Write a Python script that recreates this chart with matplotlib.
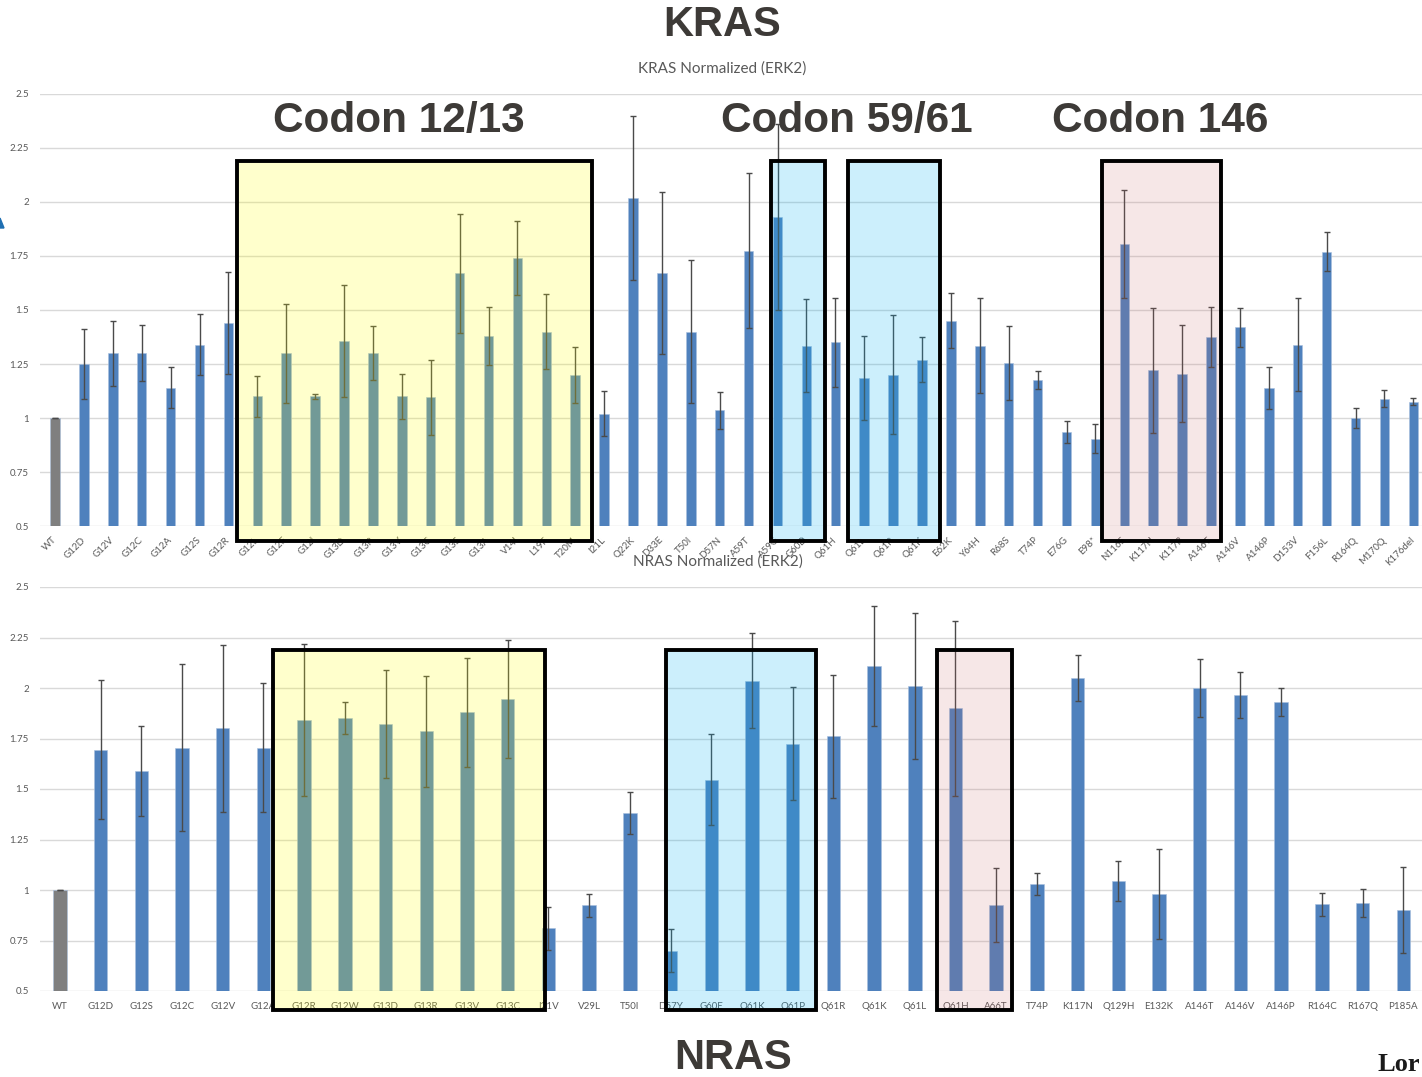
import matplotlib
matplotlib.use("Agg")
import matplotlib.pyplot as plt
import numpy as np
from matplotlib.patches import Rectangle, Polygon
from matplotlib.transforms import blended_transform_factory

# ---------------- data ----------------
kras_labels = ["WT", "G12D", "G12V", "G12C", "G12A", "G12S", "G12R",
               "G12L", "G12F", "G12I", "G13D", "G13R", "G13V", "G13C", "G13S", "G13A",
               "V14I", "L19F", "T20M", "I21L", "Q22K", "D33E", "T50I", "D57N", "A59T",
               "A59G", "G60D", "Q61H", "Q61L", "Q61R", "Q61K", "E62K", "Y64H", "R68S",
               "T74P", "E76G", "E98*", "N116S", "K117N", "K117R", "A146T", "A146V",
               "A146P", "D153V", "F156L", "R164Q", "M170Q", "K176del"]
kras_values = [1.00, 1.25, 1.30, 1.30, 1.14, 1.34, 1.44,
               1.10, 1.30, 1.10, 1.355, 1.30, 1.10, 1.095, 1.67, 1.38,
               1.74, 1.40, 1.20, 1.02, 2.02, 1.67, 1.40, 1.035, 1.775,
               1.93, 1.335, 1.35, 1.185, 1.20, 1.27, 1.45, 1.335, 1.255,
               1.175, 0.935, 0.905, 1.805, 1.22, 1.205, 1.375, 1.42,
               1.14, 1.34, 1.77, 1.00, 1.09, 1.075]
kras_errors = [0.0, 0.16, 0.15, 0.13, 0.095, 0.14, 0.235,
               0.095, 0.23, 0.01, 0.26, 0.125, 0.105, 0.175, 0.275, 0.135,
               0.17, 0.175, 0.13, 0.105, 0.38, 0.375, 0.33, 0.087, 0.36,
               0.43, 0.215, 0.205, 0.195, 0.275, 0.103, 0.127, 0.219, 0.17,
               0.042, 0.05, 0.067, 0.25, 0.29, 0.225, 0.14, 0.09,
               0.097, 0.216, 0.09, 0.047, 0.04, 0.016]

nras_labels = ["WT", "G12D", "G12S", "G12C", "G12V", "G12A", "G12R", "G12W",
               "G13D", "G13R", "G13V", "G13C", "I21V", "V29L", "T50I", "D57Y",
               "G60E", "Q61K", "Q61P", "Q61R", "Q61K", "Q61L", "Q61H", "A66T",
               "T74P", "K117N", "Q129H", "E132K", "A146T", "A146V", "A146P",
               "R164C", "R167Q", "P185A"]
nras_values = [1.00, 1.695, 1.59, 1.705, 1.80, 1.705, 1.84, 1.85,
               1.82, 1.785, 1.88, 1.945, 0.81, 0.925, 1.38, 0.70,
               1.545, 2.035, 1.725, 1.76, 2.11, 2.01, 1.90, 0.925,
               1.03, 2.05, 1.045, 0.98, 2.00, 1.965, 1.93,
               0.93, 0.935, 0.90]
nras_errors = [0.0, 0.345, 0.223, 0.415, 0.415, 0.318, 0.376, 0.08,
               0.268, 0.275, 0.27, 0.294, 0.108, 0.057, 0.104, 0.105,
               0.225, 0.235, 0.28, 0.305, 0.296, 0.36, 0.433, 0.183,
               0.056, 0.115, 0.1, 0.225, 0.145, 0.115, 0.07,
               0.057, 0.07, 0.213]

y_ticks = [0.5, 0.75, 1.0, 1.25, 1.5, 1.75, 2.0, 2.25, 2.5]
y_tick_labels = ["0.5", "0.75", "1", "1.25", "1.5", "1.75", "2", "2.25", "2.5"]

# ---------------- style ----------------
BLUE = "#4F81BD"
GREY = "#7F7F7F"
TXT = "#595959"
TICK_FONT = ["Lato", "DejaVu Sans"]

W, H = 1422, 1077
fig = plt.figure(figsize=(W / 100, H / 100), dpi=100)
fig.patch.set_facecolor("white")


def px_box(x0, y0, x1, y1):
    """Axes rectangle [left, bottom, width, height] from pixel corners."""
    return [x0 / W, 1 - y1 / H, (x1 - x0) / W, (y1 - y0) / H]


def draw_panel(ax, labels, values, errors, xlim, rotate):
    x = np.arange(len(labels))
    colors = [GREY if lab == "WT" else BLUE for lab in labels]
    ax.bar(x, np.array(values) - 0.5, bottom=0.5, width=0.33, color=colors,
           edgecolor="#A9C0DE", linewidth=0.4, zorder=2)
    ax.errorbar(x, values, yerr=errors, fmt="none", ecolor="#4A4A4A",
                elinewidth=1.0, capsize=2.5, capthick=1.0, zorder=3)
    ax.set_ylim(0.5, 2.5)
    ax.set_xlim(*xlim)
    ax.set_yticks(y_ticks)
    ax.set_yticklabels(y_tick_labels, fontsize=7, color=TXT, family=TICK_FONT)
    ax.set_xticks(x)
    if rotate:
        ax.set_xticklabels(labels, rotation=45, ha="right", va="center",
                           rotation_mode="anchor", fontsize=7, color=TXT,
                           family=TICK_FONT)
        ax.tick_params(axis="x", pad=9)
    else:
        ax.set_xticklabels(labels, fontsize=7, color=TXT, family=TICK_FONT)
        ax.tick_params(axis="x", pad=8)
    ax.tick_params(axis="both", length=0)
    ax.tick_params(axis="y", pad=8)
    ax.grid(axis="y", color="#D9D9D9", linewidth=1.0, zorder=0)
    ax.set_axisbelow(True)
    for s in ax.spines.values():
        s.set_visible(False)


ax_k = fig.add_axes(px_box(40, 94, 1422, 526))
draw_panel(ax_k, kras_labels, kras_values, kras_errors, (-0.52, 47.3), True)

ax_n = fig.add_axes(px_box(40, 587, 1422, 991))
draw_panel(ax_n, nras_labels, nras_values, nras_errors, (-0.49, 33.46), False)

# chart titles
fig.text(722 / W, 1 - 69 / H, "KRAS Normalized (ERK2)", ha="center", va="center",
         fontsize=11, color=TXT, family=TICK_FONT)
fig.text(718 / W, 1 - 562 / H, "NRAS Normalized (ERK2)", ha="center", va="center",
         fontsize=11, color=TXT, family=TICK_FONT, zorder=5)

# highlight boxes over groups of mutations (x in bar units, y in figure units)
def highlight(ax, x0, x1, y0px, y1px, rgba):
    tr = blended_transform_factory(ax.transData, fig.transFigure)
    y0 = 1 - y1px / H
    y1 = 1 - y0px / H
    rect = Rectangle((x0, y0), x1 - x0, y1 - y0, transform=tr,
                     facecolor=rgba, edgecolor="black", linewidth=2.8,
                     clip_on=False, zorder=10)
    fig.add_artist(rect)


YELLOW = (1.0, 1.0, 0.0, 0.2)
CYAN = (0.0, 0.69, 0.94, 0.2)
PINK = (0.78, 0.39, 0.39, 0.15)

highlight(ax_k, 6.30, 18.58, 161, 541, YELLOW)
highlight(ax_k, 24.78, 26.64, 161, 541, CYAN)
highlight(ax_k, 27.44, 30.62, 161, 541, CYAN)
highlight(ax_k, 36.23, 40.35, 161, 541, PINK)

highlight(ax_n, 5.23, 11.92, 650, 1010, YELLOW)
highlight(ax_n, 14.89, 18.57, 650, 1010, CYAN)
highlight(ax_n, 21.55, 23.39, 650, 1010, PINK)

# headings
HEAD = "#3D3A37"
HFONT = ["Liberation Sans", "DejaVu Sans"]
fig.text(722 / W, 1 - 25 / H, "KRAS", ha="center", va="center", fontsize=30,
         fontweight="bold", color=HEAD, family=HFONT)
fig.text(733 / W, 1 - 1058 / H, "NRAS", ha="center", va="center", fontsize=30,
         fontweight="bold", color=HEAD, family=HFONT)
for cx, txt in [(399, "Codon 12/13"), (847, "Codon 59/61"), (1160, "Codon 146")]:
    fig.text(cx / W, 1 - 121 / H, txt, ha="center", va="center", fontsize=30.5,
             fontweight="bold", color=HEAD, family=HFONT, zorder=12)

fig.text(1378 / W, 1 - 1076 / H, "Lor", ha="left", va="bottom", fontsize=19,
         fontweight="bold", color="#1A1A1A", family=["Liberation Serif", "DejaVu Serif"])

# small blue marker at the left edge
fig.add_artist(Polygon([(0 / W, 1 - 218 / H), (4 / W, 1 - 228 / H), (0 / W, 1 - 228 / H)],
                       closed=True, transform=fig.transFigure, color="#1F6FB2"))

fig.savefig("out.png", dpi=100, facecolor="white")
